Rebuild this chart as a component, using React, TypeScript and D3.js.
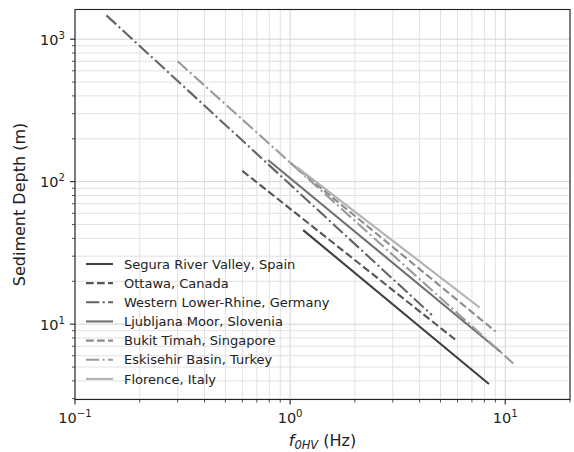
import React from 'react';
import * as d3 from 'd3';

// site names, in legend order
const sites = [
    'Segura River Valley, Spain',
    'Ottawa, Canada',
    'Western Lower-Rhine, Germany',
    'Ljubljana Moor, Slovenia',
    'Bukit Timah, Singapore',
    'Eskisehir Basin, Turkey',
    'Florence, Italy',
];

// end points of each relation, [f0HV (Hz), depth (m)]
const seguraPts = [[1.15, 45.7], [8.4, 3.8]];
const ottawaPts = [[0.6, 119], [5.85, 7.8]];
const rhinePts = [[0.14, 1470], [4.56, 11.6]];
const ljubljanaPts = [[0.79, 142], [9.5, 6.4]];
const bukitPts = [[1.0, 136], [9.0, 8.9]];
const eskisehirPts = [[0.3, 700], [10.9, 5.3]];
const florencePts = [[1.07, 127], [7.6, 13.1]];

const seriesPts = [seguraPts, ottawaPts, rhinePts, ljubljanaPts, bukitPts, eskisehirPts, florencePts];

const colors = ['#3f3f3f', '#555555', '#636363', '#707070', '#8c8c8c', '#9a9a9a', '#b2b2b2'];
const dashes = ['none', '7.7,3.3', '13.3,3.3,2.1,3.3', 'none', '7.7,3.3', '13.3,3.3,2.1,3.3', 'none'];

const xDomain = [0.1, 20];
const yDomain = [2.96, 1616];

const W = 574;
const H = 452;
const m = { left: 75, right: 570, top: 9.5, bottom: 399.5 };

const font = 'DejaVu Sans, sans-serif';

const Pow = ({ x, y, exp, anchor, size }) => (
    <text x={x} y={y} textAnchor={anchor} fontSize={size} fontFamily={font} fill="#222">
        10
        <tspan fontSize={size * 0.7} dy={-size * 0.42}>
            {exp}
        </tspan>
    </text>
);

export default function App() {
    const x = d3.scaleLog().domain(xDomain).range([m.left, m.right]);
    const y = d3.scaleLog().domain(yDomain).range([m.bottom, m.top]);

    const isMajor = (v) => Math.abs(Math.log10(v) - Math.round(Math.log10(v))) < 1e-9;
    const xTicks = x.ticks().filter((v) => v > xDomain[0] * 0.999 && v < xDomain[1] * 1.001);
    const yTicks = y.ticks().filter((v) => v > yDomain[0] && v < yDomain[1]);

    const line = d3
        .line()
        .x((d) => x(d[0]))
        .y((d) => y(d[1]));

    const legendX = 86;
    const legendY = 264;
    const legendStep = 19.15;

    return (
        <svg width={W} height={H} style={{ position: 'absolute', left: 0, top: 0, background: '#fff' }}>
            <rect x={0} y={0} width={W} height={H} fill="#fff" />
            {/* grid */}
            <g>
                {xTicks.map((v, i) => (
                    <line
                        key={'gx' + i}
                        x1={x(v)}
                        x2={x(v)}
                        y1={m.top}
                        y2={m.bottom}
                        stroke={isMajor(v) ? '#d4d4d4' : '#e2e2e2'}
                        strokeWidth={1}
                    />
                ))}
                {yTicks.map((v, i) => (
                    <line
                        key={'gy' + i}
                        x1={m.left}
                        x2={m.right}
                        y1={y(v)}
                        y2={y(v)}
                        stroke={isMajor(v) ? '#d4d4d4' : '#e2e2e2'}
                        strokeWidth={1}
                    />
                ))}
            </g>

            {/* series */}
            <g>
                {seriesPts.map((pts, i) => (
                    <path
                        key={sites[i]}
                        d={line(pts)}
                        fill="none"
                        stroke={colors[i]}
                        strokeWidth={2.1}
                        strokeDasharray={dashes[i]}
                    />
                ))}
            </g>

            {/* legend, no frame */}
            <g>
                {sites.map((s, i) => (
                    <g key={s} transform={`translate(0,${legendY + i * legendStep})`}>
                        <line
                            x1={legendX}
                            x2={legendX + 27}
                            y1={0}
                            y2={0}
                            stroke={colors[i]}
                            strokeWidth={2.1}
                            strokeDasharray={dashes[i]}
                        />
                        <text x={124} y={0} dy="0.36em" fontSize={13} fontFamily={font} fill="#222">
                            {s}
                        </text>
                    </g>
                ))}
            </g>

            {/* frame */}
            <rect
                x={m.left}
                y={m.top}
                width={m.right - m.left}
                height={m.bottom - m.top}
                fill="none"
                stroke="#222"
                strokeWidth={1.1}
            />

            {/* x ticks */}
            <g>
                {xTicks.map((v, i) => (
                    <line
                        key={'tx' + i}
                        x1={x(v)}
                        x2={x(v)}
                        y1={m.bottom}
                        y2={m.bottom + (isMajor(v) ? 5 : 3)}
                        stroke="#222"
                        strokeWidth={isMajor(v) ? 1.1 : 0.8}
                    />
                ))}
                {xTicks.filter(isMajor).map((v, i) => (
                    <Pow key={'lx' + i} x={x(v)} y={423} exp={v < 1 ? '\u22121' : v < 10 ? '0' : '1'} anchor="middle" size={14.5} />
                ))}
            </g>

            {/* y ticks */}
            <g>
                {yTicks.map((v, i) => (
                    <line
                        key={'ty' + i}
                        x1={m.left - (isMajor(v) ? 5 : 3)}
                        x2={m.left}
                        y1={y(v)}
                        y2={y(v)}
                        stroke="#222"
                        strokeWidth={isMajor(v) ? 1.1 : 0.8}
                    />
                ))}
                {yTicks.filter(isMajor).map((v, i) => (
                    <Pow
                        key={'ly' + i}
                        x={65}
                        y={y(v) + 5.5}
                        exp={String(Math.round(Math.log10(v)))}
                        anchor="end"
                        size={14.5}
                    />
                ))}
            </g>

            {/* axis labels */}
            <text
                transform={`translate(25,${(m.top + m.bottom) / 2}) rotate(-90)`}
                textAnchor="middle"
                fontSize={16}
                fontFamily={font}
                fill="#222"
            >
                Sediment Depth (m)
            </text>
            <text x={(m.left + m.right) / 2} y={446} textAnchor="middle" fontSize={16} fontFamily={font} fill="#222">
                <tspan fontStyle="italic">f</tspan>
                <tspan fontStyle="italic" fontSize={11.5} dy={3}>
                    0HV
                </tspan>
                <tspan dy={-3}> (Hz)</tspan>
            </text>
        </svg>
    );
}
